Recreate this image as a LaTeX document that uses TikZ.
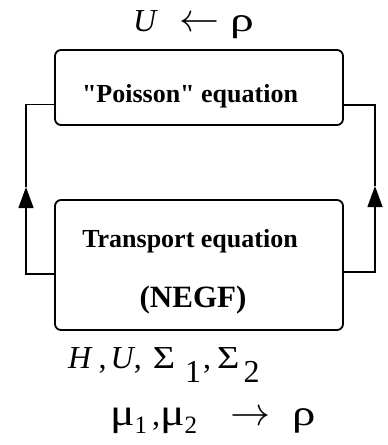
\documentclass[tikz,border=0pt]{standalone}
\usepackage{fontspec}
\setmainfont{Liberation Serif}[Ligatures=TeXOff]
\DeclareFontShape{OMS}{cmsy}{m}{n}{<->cmsy10}{}
\DeclareFontShape{OML}{cmm}{m}{it}{<->cmmi10}{}
\usepackage{graphicx}
\usepackage{tikz}
\usetikzlibrary{arrows.meta, positioning, calc}
\tikzset{
  eqbox/.style={rectangle,draw=black,minimum width=288pt,inner sep=0pt,
    rounded corners=6pt,line width=1.8pt},
  boxtxt/.style={font=\bfseries\fontsize{26}{30}\selectfont,inner sep=0pt,anchor=base},
  bigtxt/.style={font=\bfseries\fontsize{31}{36}\selectfont,inner sep=0pt,anchor=base},
  symtxt/.style={font=\fontsize{32}{36}\selectfont,inner sep=0pt,anchor=base west},
  line/.style={line width=1.3pt,color=black},
  arrow/.style={-{Triangle[width=15pt,length=21pt]},line width=1.3pt,color=black}
}

\begin{document}
\begin{tikzpicture}[x=1pt,y=-1pt]
  \useasboundingbox (0,0) rectangle (388,445);

  % ── Boxes ─────────────────────────────────────────────────────────────────
  \node[eqbox, minimum height=75pt]  (poisson)   at (199,87.5) {};
  \node[eqbox, minimum height=130pt] (transport) at (199,265)  {};

  \node[boxtxt] (poissonlbl)   at (190,102) {"Poisson" equation};
  \node[boxtxt] (transportlbl) at (190,247) {Transport equation};
  \node[bigtxt] (negflbl)      at (193,307) {(NEGF)};

  % ── Feedback loop ─────────────────────────────────────────────────────────
  \coordinate (pl) at ($(poisson.west)+(0,17)$);
  \coordinate (pr) at ($(poisson.east)+(0,17.5)$);
  \coordinate (tl) at ($(transport.west)+(0,9)$);
  \coordinate (tr) at ($(transport.east)+(0,7)$);
  \coordinate (lmid) at (26,187);
  \coordinate (rmid) at (375,186);

  \draw[arrow] (tl) -| (lmid);
  \draw[line]  (lmid) |- (pl);
  \draw[arrow] (tr) -| (rmid);
  \draw[line]  (rmid) |- (pr);

  % ── Quantities (Greek set wider, as in the drawing) ──────────────────────
  \node[symtxt] (potential) at (133,31)
    {\textit{U}\hspace{21pt}{\fontsize{40}{40}\selectfont$\leftarrow$}\hspace{11pt}\scalebox{1.4}[1]{\fontsize{34}{36}\selectfont ρ}};
  \node[symtxt] (inputs) at (68,368)
    {\textit{H}\hspace{6pt},\hspace{4pt}\textit{U},\hspace{11pt}\scalebox{1.2}[1]{Σ}\hspace{10pt}\raisebox{-14pt}{1}\hspace{2pt},\hspace{6pt}\scalebox{1.2}[1]{Σ}\hspace{4pt}\raisebox{-14pt}{2}};
  \node[symtxt] (density) at (110,425)
    {\scalebox{1.2}[1]{\fontsize{38}{40}\selectfont μ}\raisebox{-8pt}{\fontsize{25}{28}\selectfont 1}\hspace{5pt},\scalebox{1.2}[1]{\fontsize{38}{40}\selectfont μ}\raisebox{-8pt}{\fontsize{25}{28}\selectfont 2}\hspace{33pt}{\fontsize{40}{40}\selectfont$\rightarrow$}\hspace{22pt}\scalebox{1.3}[1]{\fontsize{36}{40}\selectfont ρ}};
\end{tikzpicture}
\end{document}
